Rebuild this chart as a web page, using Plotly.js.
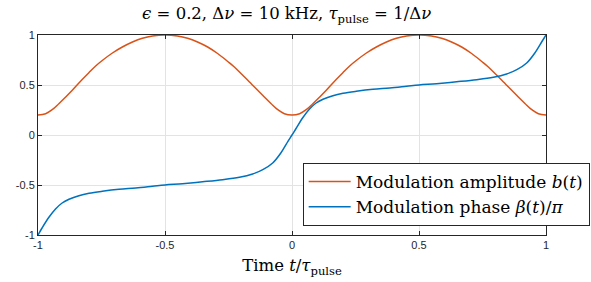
<!DOCTYPE html>
<html>
<head>
<meta charset="utf-8">
<script src="https://cdn.plot.ly/plotly-3.0.1.min.js"></script>
<style>html,body{margin:0;padding:0;background:#fff;}#chart{width:591px;height:282px;}</style>
</head>
<body>
<div id="chart"></div>
<script>
// modulation amplitude b(t): time samples (t / tau_pulse) and values
var tAmplitude = [-1, -0.970, -0.944, -0.918, -0.891, -0.865, -0.826, -0.799, -0.773, -0.747, -0.707, -0.668, -0.628, -0.589, -0.549, -0.5,
  -0.451, -0.411, -0.372, -0.332, -0.293, -0.253, -0.227, -0.201, -0.174, -0.135, -0.109, -0.082, -0.056, -0.030, 0,
  0.030, 0.056, 0.082, 0.109, 0.135, 0.174, 0.201, 0.227, 0.253, 0.293, 0.332, 0.372, 0.411, 0.451, 0.5,
  0.549, 0.589, 0.628, 0.668, 0.707, 0.747, 0.773, 0.799, 0.826, 0.865, 0.891, 0.918, 0.944, 0.970, 1];
var amplitude = [0.20, 0.213, 0.253, 0.313, 0.38, 0.447, 0.555, 0.625, 0.69, 0.745, 0.82, 0.88, 0.93, 0.967, 0.99, 1.0,
  0.99, 0.967, 0.93, 0.88, 0.815, 0.735, 0.68, 0.615, 0.548, 0.447, 0.38, 0.313, 0.253, 0.213, 0.20,
  0.213, 0.253, 0.313, 0.38, 0.447, 0.555, 0.625, 0.69, 0.745, 0.82, 0.88, 0.93, 0.967, 0.99, 1.0,
  0.99, 0.967, 0.93, 0.88, 0.815, 0.735, 0.68, 0.615, 0.548, 0.447, 0.38, 0.313, 0.253, 0.213, 0.20];
// modulation phase beta(t)/pi: time samples and values
var tPhase = [-1, -0.984, -0.957, -0.931, -0.905, -0.878, -0.839, -0.799, -0.747, -0.681, -0.615, -0.549, -0.5,
  -0.431, -0.352, -0.273, -0.207, -0.155, -0.115, -0.076, -0.044, -0.016, 0,
  0.016, 0.043, 0.069, 0.095, 0.122, 0.161, 0.201, 0.253, 0.319, 0.385, 0.451, 0.5,
  0.569, 0.648, 0.727, 0.793, 0.845, 0.885, 0.924, 0.956, 0.984, 1];
var phase = [-1.0, -0.93, -0.823, -0.74, -0.68, -0.643, -0.607, -0.583, -0.563, -0.543, -0.53, -0.513, -0.5,
  -0.487, -0.468, -0.447, -0.423, -0.39, -0.347, -0.28, -0.18, -0.063, 0.0,
  0.065, 0.175, 0.26, 0.32, 0.357, 0.393, 0.417, 0.437, 0.457, 0.47, 0.487, 0.5,
  0.513, 0.532, 0.553, 0.577, 0.61, 0.653, 0.72, 0.82, 0.935, 1.0];
var tickVals = [-1, -0.5, 0, 0.5, 1];
var tickText = ["-1", "-0.5", "0", "0.5", "1"];
var seriesNames = ["Modulation amplitude <i>b</i>(<i>t</i>)", "Modulation phase <i>β</i>(<i>t</i>)/<i>π</i>"];

var serif = "DejaVu Serif, Liberation Serif, serif";
var sans = "Liberation Sans, Arial, sans-serif";
var axisCommon = {
  range: [-1, 1], tickvals: tickVals, ticktext: tickText,
  ticks: "inside", ticklen: 4, tickwidth: 1, tickcolor: "#262626",
  showline: true, linecolor: "#262626", linewidth: 1, mirror: "ticks",
  showgrid: true, gridcolor: "#e3e3e3", gridwidth: 1, zeroline: false,
  tickfont: {family: sans, size: 11, color: "#262626"}
};
var data = [
  {x: tAmplitude, y: amplitude, type: "scatter", mode: "lines", name: seriesNames[0],
   line: {color: "#D95319", width: 1.5, shape: "spline", smoothing: 1}},
  {x: tPhase, y: phase, type: "scatter", mode: "lines", name: seriesNames[1],
   line: {color: "#0072BD", width: 1.5, shape: "spline", smoothing: 1}}
];
var layout = {
  width: 591, height: 282,
  margin: {l: 38, r: 45, t: 35, b: 47, autoexpand: false},
  paper_bgcolor: "#fff", plot_bgcolor: "#fff",
  title: {text: "<i>ϵ</i> = 0.2, Δ<i>ν</i> = 10 kHz, <i>τ</i><sub>pulse</sub> = 1/Δ<i>ν</i>",
    font: {family: serif, size: 16.5, color: "#000"}, x: 0.485, xanchor: "center", y: 0.952, yanchor: "middle"},
  xaxis: Object.assign({}, axisCommon, {
    title: {text: "Time <i>t</i>/<i>τ</i><sub>pulse</sub>", font: {family: serif, size: 16.5, color: "#000"}, standoff: 9}
  }),
  yaxis: Object.assign({}, axisCommon, {}),
  showlegend: true,
  legend: {x: 0.521, y: 0.36, xanchor: "left", yanchor: "top", itemwidth: 42,
    bgcolor: "#fff", bordercolor: "#262626", borderwidth: 1,
    font: {family: serif, size: 17, color: "#000"}, tracegroupgap: 0}
};
Plotly.newPlot("chart", data, layout, {displayModeBar: false, staticPlot: true});
</script>
</body>
</html>
